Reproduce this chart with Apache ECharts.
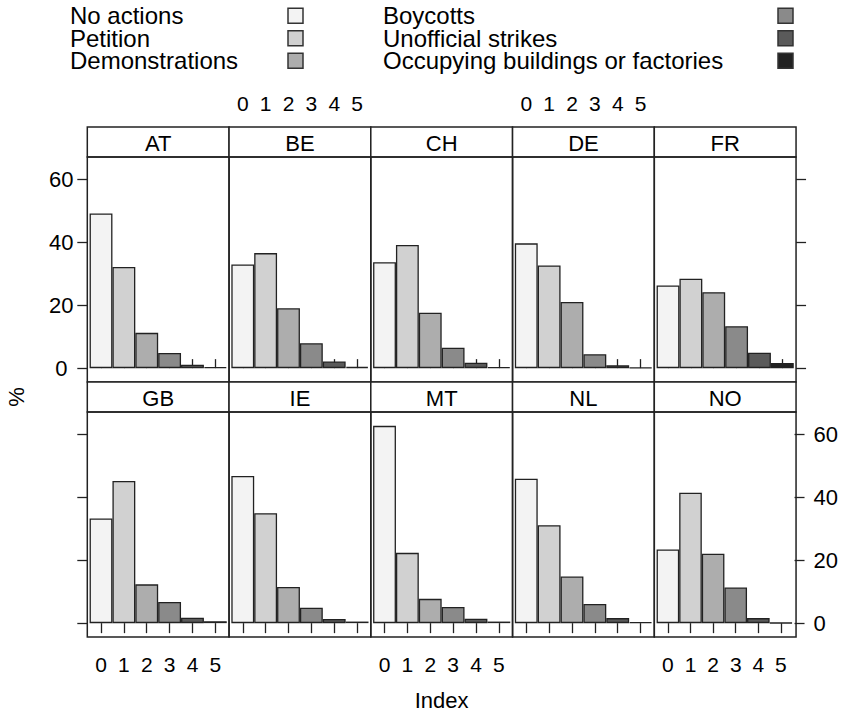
<!DOCTYPE html>
<html>
<head>
<meta charset="utf-8">
<script src="https://cdn.jsdelivr.net/npm/echarts@6/dist/echarts.min.js"></script>
<style>
html,body{margin:0;padding:0;background:#fff;}
#chart{width:841px;height:714px;}
</style>
</head>
<body>
<div id="chart"></div>
<script>
// ---- data ----
const categories = ['0', '1', '2', '3', '4', '5'];
const actions = ['No actions', 'Petition', 'Demonstrations', 'Boycotts', 'Unofficial strikes', 'Occupying buildings or factories'];
const countries = ['AT', 'BE', 'CH', 'DE', 'FR', 'GB', 'IE', 'MT', 'NL', 'NO'];
const AT = [49.1, 32.1, 11.2, 4.8, 1.1, 0.3];
const BE = [32.9, 36.5, 19.0, 7.9, 2.1, 0.4];
const CH = [33.6, 39.1, 17.6, 6.5, 1.7, 0.3];
const DE = [39.6, 32.6, 21.0, 4.4, 0.9, 0.2];
const FR = [26.2, 28.4, 24.1, 13.3, 4.9, 1.6];
const GB = [33.2, 45.1, 12.3, 6.7, 1.7, 0.6];
const IE = [46.7, 34.9, 11.5, 4.9, 1.3, 0.5];
const MT = [62.6, 22.3, 7.7, 5.1, 1.4, 0.5];
const NL = [45.8, 31.1, 14.8, 6.1, 1.6, 0.3];
const NO = [23.4, 41.4, 22.0, 11.3, 1.6, 0.1];
const panelValues = [AT, BE, CH, DE, FR, GB, IE, MT, NL, NO];
const yTicks = [0, 20, 40, 60];
const greys = ['#f3f3f3', '#d1d1d1', '#adadad', '#8a8a8a', '#5a5a5a', '#222222'];

// ---- layout ----
const FONT = "'Liberation Sans', Arial, Helvetica, sans-serif";
const INK = '#000';
const LINE = '#222';
const left0 = 87.3, panelW = 141.75;
const rowTops = [127, 382];
const stripH = 30, plotH = 225;
const inset = panelW * 0.1 / 6.2;
const yMin = -4.4, yMax = 67;

const grids = [], xAxes = [], yAxes = [], series = [], graphics = [];

countries.forEach(function (name, i) {
  const r = Math.floor(i / 5), c = i % 5;
  const px = left0 + c * panelW;
  const stripTop = rowTops[r];
  const plotTop = stripTop + stripH;
  grids.push({ left: px + inset, top: plotTop, width: panelW - 2 * inset, height: plotH, containLabel: false });
  const showXLabel = r === 0 ? (c === 1 || c === 3) : (c === 0 || c === 2 || c === 4);
  xAxes.push({
    type: 'category', gridIndex: i, data: categories,
    position: r === 0 ? 'top' : 'bottom', offset: r === 0 ? stripH : 0,
    axisLine: { show: false },
    axisTick: { show: true, alignWithLabel: true, length: r === 0 ? 9 : 10, lineStyle: { color: LINE, width: 1.3 } },
    axisLabel: { show: showXLabel, fontSize: 21, color: INK, fontFamily: FONT, margin: r === 0 ? 13 : 17, interval: 0 },
    splitLine: { show: false }
  });
  const showY = (c === 0 || c === 4);
  const showYLabel = (r === 0 && c === 0) || (r === 1 && c === 4);
  yAxes.push({
    type: 'value', gridIndex: i, min: yMin, max: yMax, show: showY,
    position: c === 4 ? 'right' : 'left', offset: inset,
    axisLine: { show: false },
    axisTick: { show: true, length: 10, customValues: yTicks, lineStyle: { color: LINE, width: 1.3 } },
    axisLabel: c === 4
      ? { show: showYLabel, customValues: yTicks, fontSize: 22, color: INK, fontFamily: FONT, margin: 19 }
      : { show: showYLabel, customValues: yTicks, fontSize: 22, color: INK, fontFamily: FONT, margin: 26, align: 'center' },
    splitLine: { show: false }
  });
  const vals = panelValues[i];
  actions.forEach(function (act, k) {
    series.push({
      type: 'bar', name: act, xAxisIndex: i, yAxisIndex: i,
      data: categories.map(function (_, j) { return j === k ? vals[j] : '-'; }),
      barGap: '-100%', barCategoryGap: '0%',
      itemStyle: { color: greys[k], borderColor: LINE, borderWidth: 1.3 },
      emphasis: { disabled: true }, silent: true
    });
  });
  // strip and panel frame
  graphics.push({ type: 'rect', shape: { x: px, y: stripTop, width: panelW, height: stripH }, style: { fill: '#fff', stroke: LINE, lineWidth: 1.5 }, z: 10 });
  graphics.push({ type: 'rect', shape: { x: px, y: plotTop, width: panelW, height: plotH }, style: { fill: 'none', stroke: LINE, lineWidth: 1.5 }, z: 10 });
  graphics.push({ type: 'text', x: px + panelW / 2, y: stripTop + stripH / 2 + 1, style: { text: name, fontSize: 22, fontFamily: FONT, fill: INK, align: 'center', verticalAlign: 'middle' }, z: 11 });
});

graphics.push({ type: 'text', x: 441.6, y: 700, style: { text: 'Index', fontSize: 22, fontFamily: FONT, fill: INK, align: 'center', verticalAlign: 'middle' } });
graphics.push({ type: 'text', x: 16, y: 397, rotation: Math.PI / 2, style: { text: '%', fontSize: 22, fontFamily: FONT, fill: INK, align: 'center', verticalAlign: 'middle' } });

function legendCol(names, leftPos, textW) {
  return {
    data: names, orient: 'vertical', left: leftPos, top: 3.75, padding: 0, align: 'right',
    itemWidth: 15, itemHeight: 15, itemGap: -1.5, icon: 'rect', selectedMode: false,
    formatter: '{a|{name}}',
    itemStyle: { borderColor: '#333', borderWidth: 1.5 },
    textStyle: { fontSize: 24, lineHeight: 15, color: INK, fontFamily: FONT,
      rich: { a: { width: textW, align: 'left', fontSize: 24, lineHeight: 15, color: INK, fontFamily: FONT } } }
  };
}

const chart = echarts.init(document.getElementById('chart'), null, { renderer: 'svg' });
chart.setOption({
  animation: false,
  backgroundColor: '#fff',
  textStyle: { fontFamily: FONT },
  legend: [legendCol(actions.slice(0, 3), 70, 213), legendCol(actions.slice(3), 383, 390)],
  grid: grids, xAxis: xAxes, yAxis: yAxes, series: series,
  graphic: graphics
});
</script>
</body>
</html>
